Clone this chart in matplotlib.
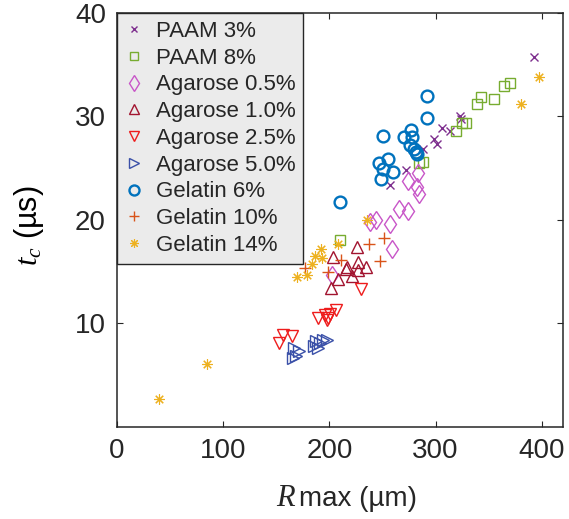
import matplotlib
matplotlib.use("Agg")
import matplotlib.pyplot as plt

plt.rcParams.update({
    "font.family": ["Liberation Sans", "DejaVu Sans"],
    "mathtext.fontset": "custom",
    "mathtext.it": "Liberation Serif:italic",
    "mathtext.rm": "Liberation Serif",
    "text.color": "#262626",
    "axes.edgecolor": "#262626",
    "xtick.color": "#262626",
    "ytick.color": "#262626",
})

# data (R_max in um, t_c in us)
paam3_r = [392.5, 323.4, 324.0, 306.0, 313.8, 298.5, 301.0, 288.0, 272.0, 257.4]
paam3_t = [35.7, 30.0, 29.8, 28.9, 28.6, 27.8, 27.3, 26.9, 24.8, 23.4]

paam8_r = [370.0, 364.0, 343.0, 355.0, 339.0, 328.5, 325.0, 319.7, 288.0, 284.0, 209.6]
paam8_t = [33.2, 32.9, 31.9, 31.7, 31.2, 29.4, 29.4, 28.6, 25.6, 25.5, 18.1]

aga05_r = [283.8, 274.5, 283.0, 284.8, 266.0, 273.8, 257.4, 243.8, 238.0, 259.0, 202.7]
aga05_t = [24.5, 23.8, 23.2, 22.5, 21.1, 20.85, 19.6, 20.0, 19.8, 17.2, 14.7]

aga10_r = [226.0, 203.4, 216.4, 226.7, 234.5, 226.7, 221.5, 215.7, 207.9, 202.0]
aga10_t = [17.4, 16.4, 15.5, 15.9, 15.5, 15.2, 14.6, 15.3, 14.3, 13.4]

aga25_r = [229.4, 206.0, 200.9, 195.8, 189.0, 199.0, 197.6, 165.0, 156.0, 153.0]
aga25_t = [13.3, 11.35, 10.9, 10.8, 10.55, 10.55, 10.3, 8.8, 8.85, 8.1]

aga50_r = [166.8, 171.8, 168.5, 165.8, 185.6, 187.0, 190.8, 194.0, 197.6, 189.0]
aga50_t = [7.65, 7.3, 6.85, 6.7, 7.8, 8.3, 8.1, 8.4, 8.45, 7.65]

gel6_r = [291.6, 291.6, 250.6, 277.3, 270.4, 278.0, 276.0, 279.6, 281.4, 283.0,
          255.0, 246.5, 250.6, 260.0, 249.0, 210.0]
gel6_t = [32.0, 29.9, 28.1, 28.7, 28.0, 28.0, 27.2, 26.9, 26.6, 26.4,
          25.9, 25.5, 24.9, 24.6, 24.0, 21.75]

gel10_r = [251.6, 237.0, 248.0, 211.0, 199.0, 177.0]
gel10_t = [18.3, 17.7, 16.0, 16.1, 15.0, 15.4]

gel14_r = [397.6, 380.5, 235.0, 208.5, 192.5, 186.7, 193.5, 184.0, 178.8, 169.6, 84.8, 39.3]
gel14_t = [33.8, 31.2, 20.0, 17.7, 17.15, 16.5, 16.3, 15.7, 14.7, 14.5, 6.1, 2.7]

series = [
    ("PAAM 3%", paam3_r, paam3_t, "x", "#7E2F8E", 5.5, 1.0),
    ("PAAM 8%", paam8_r, paam8_t, "s", "#77AC30", 6.5, 1.0),
    ("Agarose 0.5%", aga05_r, aga05_t, "d", "#C856C8", 9.5, 1.0),
    ("Agarose 1.0%", aga10_r, aga10_t, "^", "#A2142F", 9.0, 1.0),
    ("Agarose 2.5%", aga25_r, aga25_t, "v", "#EE1C1C", 9.0, 1.0),
    ("Agarose 5.0%", aga50_r, aga50_t, ">", "#3A50A8", 9.0, 1.0),
    ("Gelatin 6%", gel6_r, gel6_t, "o", "#0072BD", 8.5, 1.7),
    ("Gelatin 10%", gel10_r, gel10_t, "+", "#D95319", 8.0, 1.0),
    ("Gelatin 14%", gel14_r, gel14_t, (8, 2, 0), "#EDB120", 7.5, 0.8),
]

fig = plt.figure(figsize=(5.69, 5.19), dpi=100)
ax = fig.add_axes([0.2056, 0.1773, 0.7838, 0.7977])

for label, r, t, m, c, ms, lw in series:
    ax.plot(r, t, marker=m, linestyle="none", markersize=ms, markeredgewidth=lw,
            markeredgecolor=c, markerfacecolor="none", color=c, label=label)

ax.set_xlim(0, 420)
ax.set_ylim(0, 40)
ax.set_xticks([0, 100, 200, 300, 400])
ax.set_yticks([10, 20, 30, 40])
ax.tick_params(direction="in", length=4, width=0.8, labelsize=20,
               top=True, right=True, pad=8)
for s in ax.spines.values():
    s.set_linewidth(1.1)

# x label: italic serif R followed by "max (µm)" on the same baseline
label_y = -0.19
r_txt = ax.text(0.356, label_y, r"$R$", fontsize=22, transform=ax.transAxes,
                ha="left", va="baseline")
ax.annotate("max (µm)", xy=(1, label_y), xycoords=(r_txt, "axes fraction"),
            xytext=(2, 0), textcoords="offset points", fontsize=20,
            ha="left", va="baseline")

ax.set_ylabel(r"$t_c$ (µs)", fontsize=22)
ax.yaxis.set_label_coords(-0.16, 0.486)

leg = ax.legend(loc="upper left", fontsize=16, frameon=True, fancybox=False,
                borderaxespad=0, handlelength=0.8, handletextpad=0.6,
                labelspacing=0.26, borderpad=0.35, framealpha=1, markerscale=0.85)
leg.get_frame().set_facecolor("#EBEBEB")
leg.get_frame().set_edgecolor("#262626")
leg.get_frame().set_linewidth(1.0)

fig.savefig("out.png", dpi=100, facecolor="white")
